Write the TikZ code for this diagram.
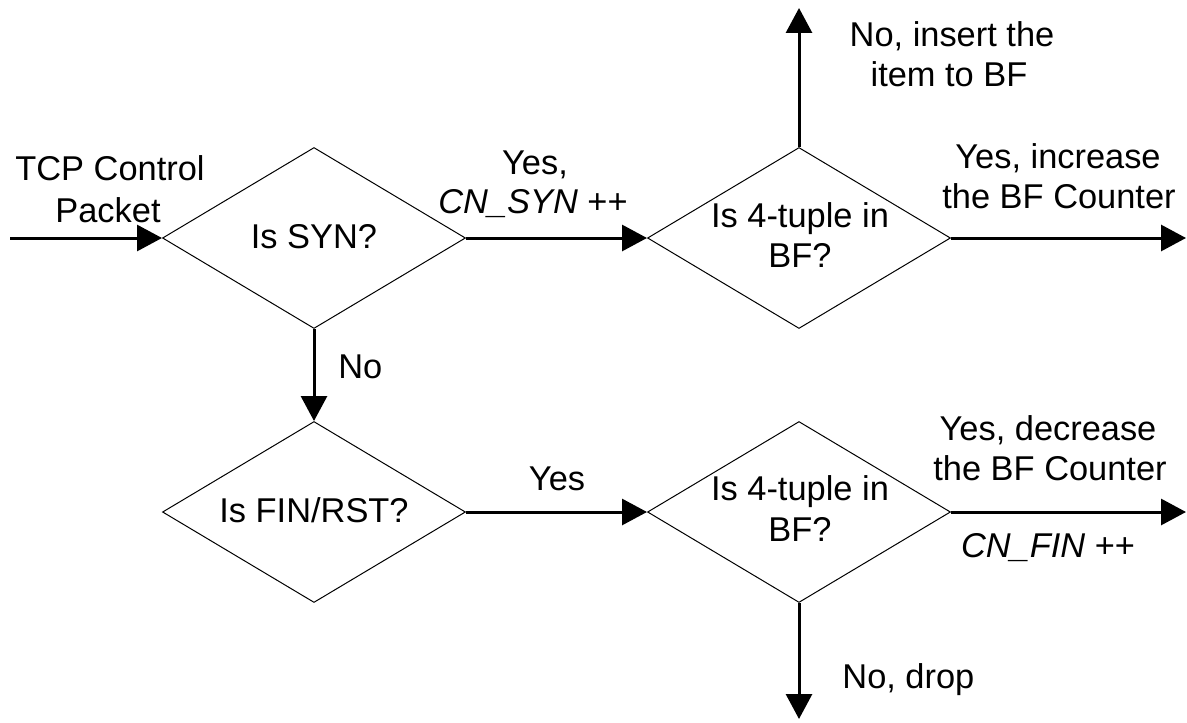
\documentclass[tikz,border=0pt]{standalone}
\usepackage{fontspec}
\setmainfont{Liberation Sans}
\usetikzlibrary{shapes.geometric,arrows.meta}
\begin{document}
\begin{tikzpicture}[x=0.5pt,y=-0.5pt,
  dia/.style={draw,shape=diamond,line width=0.5pt,minimum width=151.5pt,minimum height=90.5pt,inner sep=0pt},
  ln/.style={inner sep=0pt,anchor=base,font=\fontsize{17.2}{20}\selectfont},
  arr/.style={line width=1.5pt,-{Triangle[length=12.5pt,width=13pt]}}]
\useasboundingbox (0,0) rectangle (1187,722);
\coordinate (in) at (10,238);
\node[dia] (d1) at (314,238) {};
\node[dia] (d2) at (799,238) {};
\node[dia] (d3) at (314,512) {};
\node[dia] (d4) at (799,512) {};
\coordinate (o1) at (1186,238);
\coordinate (o2) at (1186,512);
\coordinate (up) at (799,8);
\coordinate (dn) at (799,719);
\draw[arr] (in) -- (d1.west);
\draw[arr] (d1.east) -- (d2.west);
\draw[arr] (d2.east) -- (o1);
\draw[arr] (d2.north) -- (up);
\draw[arr] (d1.south) -- (d3.north);
\draw[arr] (d3.east) -- (d4.west);
\draw[arr] (d4.east) -- (o2);
\draw[arr] (d4.south) -- (dn);
% diamond texts
\node[ln] (s1) at (314,248) {Is SYN?};
\node[ln] (s2a) at (800,227) {Is 4-tuple in};
\node[ln] (s2b) at (800,267) {BF?};
\node[ln] (s3) at (314,522) {Is FIN/RST?};
\node[ln] (s4a) at (800,500) {Is 4-tuple in};
\node[ln] (s4b) at (800,541) {BF?};
% connector labels
\node[ln] (t0a) at (110,180) {TCP Control};
\node[ln] (t0b) at (108,222) {Packet};
\node[ln] (t1a) at (535,174) {Yes,};
\node[ln] (t1b) at (533,213) {\textit{CN\_SYN} ++};
\node[ln,anchor=base west] (t2) at (338,378) {No};
\node[ln] (t3a) at (952,47) {No, insert the};
\node[ln] (t3b) at (949,87) {item to BF};
\node[ln] (t4a) at (1058,168) {Yes, increase};
\node[ln] (t4b) at (1059,208) {the BF Counter};
\node[ln] (t5) at (557,490) {Yes};
\node[ln] (t6a) at (1048,440) {Yes, decrease};
\node[ln] (t6b) at (1050,480) {the BF Counter};
\node[ln] (t7) at (1048,557) {\textit{CN\_FIN} ++};
\node[ln,anchor=base west] (t8) at (842,688) {No, drop};
\end{tikzpicture}
\end{document}
